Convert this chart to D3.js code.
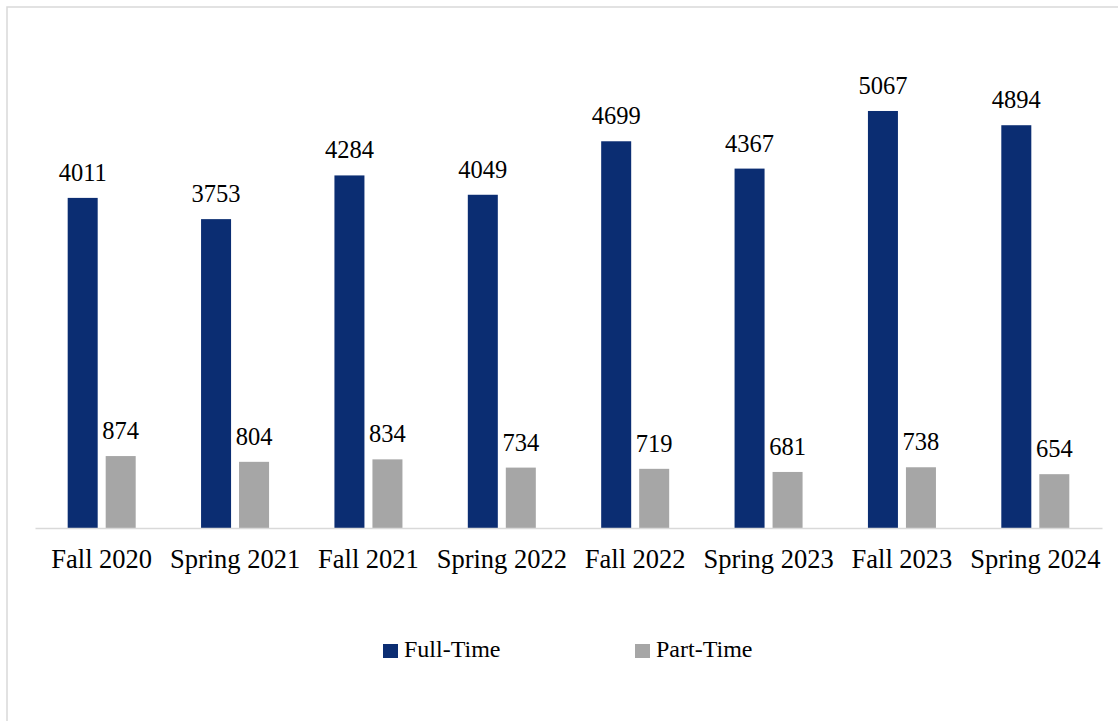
<!DOCTYPE html>
<html>
<head>
<meta charset="utf-8">
<script src="https://cdn.jsdelivr.net/npm/d3@7"></script>
<style>
  html, body { margin: 0; padding: 0; background: #fff; }
  svg { display: block; }
  text { font-family: 'Liberation Serif', 'Times New Roman', serif; fill: #000; }
</style>
</head>
<body>
<svg id="chart" width="1118" height="721"></svg>
<script>
const categories = ["Fall 2020", "Spring 2021", "Fall 2021", "Spring 2022", "Fall 2022", "Spring 2023", "Fall 2023", "Spring 2024"];
const seriesNames = ["Full-Time", "Part-Time"];
const fullTime = [4011, 3753, 4284, 4049, 4699, 4367, 5067, 4894];
const partTime = [874, 804, 834, 734, 719, 681, 738, 654];
const colors = ["#0b2d72", "#a6a6a6"];

const svg = d3.select("#chart");
const serif = "'Liberation Serif', 'Times New Roman', serif";

// outer frame
svg.append("rect")
  .attr("x", 7).attr("y", 7)
  .attr("width", 1130).attr("height", 730)
  .attr("fill", "#fff")
  .attr("stroke", "#d9d9d9").attr("stroke-width", 1.5);

const baseY = 528;
const y = d3.scaleLinear().domain([0, 6000]).range([baseY, baseY - 6000 * 0.0823]);
const x0 = d3.scaleBand().domain(categories).range([35, 1102]).padding(0);
const x1 = d3.scaleBand().domain(seriesNames).range([0, x0.bandwidth()])
  .paddingInner(0.2105).paddingOuter(0.86);

const data = categories.map((c, i) => ({ cat: c, vals: [fullTime[i], partTime[i]] }));

const g = svg.append("g");
const groups = g.selectAll(".grp").data(data).enter().append("g")
  .attr("transform", d => `translate(${x0(d.cat)},0)`);

groups.selectAll("rect").data(d => d.vals.map((v, j) => ({ s: seriesNames[j], v, j })))
  .enter().append("rect")
  .attr("x", d => x1(d.s))
  .attr("width", x1.bandwidth())
  .attr("y", d => y(d.v))
  .attr("height", d => baseY - y(d.v))
  .attr("fill", d => colors[d.j]);

groups.selectAll(".lbl").data(d => d.vals.map((v, j) => ({ s: seriesNames[j], v, j })))
  .enter().append("text")
  .attr("class", "lbl")
  .attr("x", d => x1(d.s) + x1.bandwidth() / 2)
  .attr("y", d => y(d.v) - 17)
  .attr("text-anchor", "middle")
  .attr("font-family", serif)
  .attr("font-size", 24.5)
  .text(d => d.v);

// x axis
const xAxis = d3.axisBottom(x0).tickSize(0).tickPadding(21);
const ax = svg.append("g").attr("transform", `translate(0,${baseY})`).call(xAxis);
ax.attr("font-family", serif);
ax.select(".domain").attr("stroke", "#d9d9d9").attr("stroke-width", 1.5);
ax.selectAll("text")
  .attr("font-size", 26.5)
  .attr("font-family", serif)
  .attr("fill", "#000")
  .attr("dy", "0.71em");

// legend
const legendX = [383, 635];
const leg = svg.append("g");
seriesNames.forEach((s, i) => {
  leg.append("rect").attr("x", legendX[i]).attr("y", 644)
    .attr("width", 15).attr("height", 14).attr("fill", colors[i]);
  leg.append("text").attr("x", legendX[i] + 21).attr("y", 657)
    .attr("font-family", serif)
    .attr("font-size", 24).text(s);
});
</script>
</body>
</html>
